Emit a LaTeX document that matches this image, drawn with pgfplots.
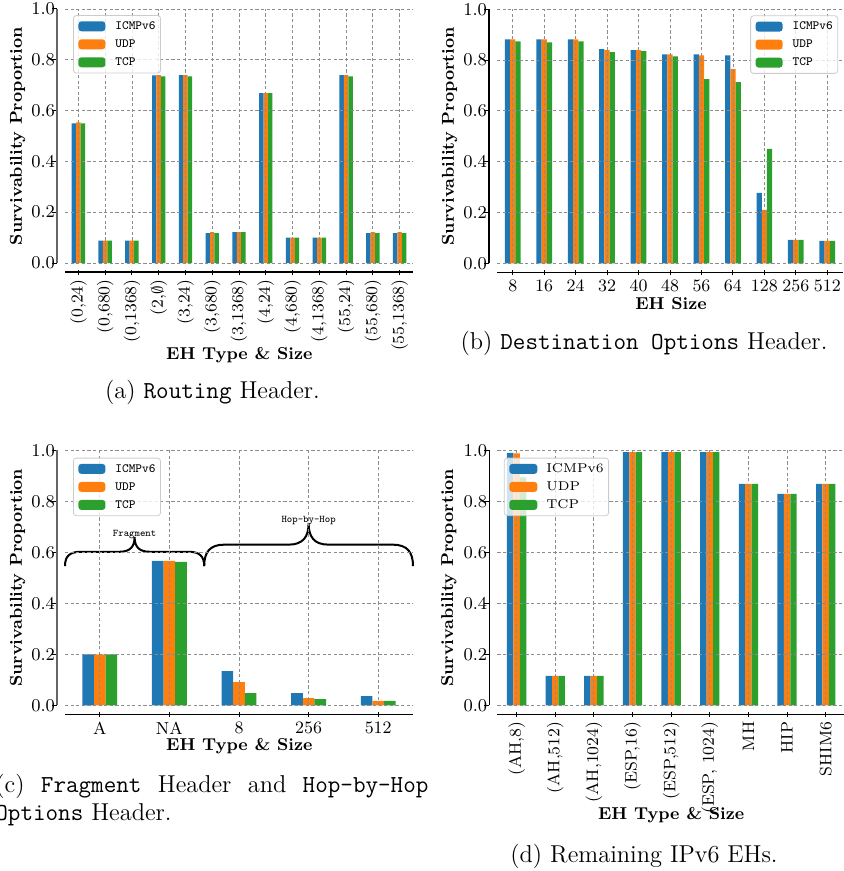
\documentclass[border=0pt]{standalone}
\usepackage{pgfplots}
\pgfplotsset{compat=1.18}
\definecolor{c1}{HTML}{1F77B4}
\definecolor{c2}{HTML}{FF7F0E}
\definecolor{c3}{HTML}{2CA02C}
\pgfplotsset{
  eh/.style={
    scale only axis,
    ymin=0, ymax=1,
    ytick={0,0.2,0.4,0.6,0.8,1},
    yticklabel style={/pgf/number format/.cd,fixed,fixed zerofill,precision=1},
    enlargelimits=false,
    ybar=0pt, bar width=0.1667,
    grid=major,
    major grid style={draw=black!45, dash pattern=on 1.6pt off 1.2pt, line width=0.4pt},
    axis on top,
    axis lines*=left,
    axis line style={-, line width=0.7pt},
    x axis line style={yshift=-4.5pt},
    y axis line style={xshift=-4pt},
    tick align=outside,
    major tick length=2.5pt,
    xtick style={yshift=-3.25pt, draw=black, line width=0.5pt},
    ytick style={xshift=-4pt, draw=black, line width=0.5pt},
    xticklabel shift=2.2pt,
    yticklabel shift=-1pt,
    tick label style={font=\fontsize{8.7}{10}\selectfont},
    label style={font=\bfseries\fontsize{8.6}{10}\selectfont},
    ylabel={Survivability Proportion},
    legend image code/.code={\fill[#1,draw=none,fill opacity=1] (0pt,-2.5pt) rectangle (13.5pt,2.5pt);},
    legend cell align=left,
    legend style={draw=black!20, fill=white, fill opacity=0.8, draw opacity=1, text opacity=1,
      rounded corners=1.5pt, inner xsep=2.5pt, inner ysep=2.5pt, row sep=3.2pt,
      font=\ttfamily\fontsize{6.3}{7}\selectfont,
      nodes={inner sep=0pt, text height=4.5pt, text depth=1.3pt},
      /tikz/every odd column/.append style={column sep=5pt}},
  },
  b1/.style={fill=c1, draw=none},
  b2/.style={fill=c2, draw=none},
  b3/.style={fill=c3, draw=none},
}
\begin{document}
\begin{tikzpicture}
\useasboundingbox (0,0) rectangle (422pt,-435.5pt);
% ---------------- (a)
\begin{axis}[eh, at={(32.5pt,-131.5pt)}, anchor=south west, width=174pt, height=127pt,
  xmin=-0.5, xmax=12.5, xtick={0,...,12},
  xticklabels={(0,24),(0,680),(0,1368),(2,$\emptyset$),(3,24),(3,680),(3,1368),(4,24),(4,680),(4,1368),(55,24),(55,680),(55,1368)},
  xticklabel style={rotate=90, anchor=east, font=\fontsize{8.3}{10}\selectfont},
  xlabel={EH Type \& Size},
  xlabel style={at={(axis description cs:0.501,-0.378)}, anchor=base},
  ylabel style={at={(axis description cs:-0.124,0.5)}, rotate=0, anchor=base},
  y axis line style={draw=black!60, line width=0.9pt},
  legend style={at={(axis description cs:0.023,0.976)}, anchor=north west}]
\addplot[b1] coordinates {(0,0.550)(1,0.088)(2,0.088)(3,0.739)(4,0.740)(5,0.118)(6,0.122)(7,0.669)(8,0.100)(9,0.100)(10,0.740)(11,0.118)(12,0.118)};
\addplot[b2] coordinates {(0,0.554)(1,0.088)(2,0.088)(3,0.740)(4,0.740)(5,0.122)(6,0.122)(7,0.669)(8,0.100)(9,0.100)(10,0.740)(11,0.122)(12,0.122)};
\addplot[b3] coordinates {(0,0.550)(1,0.088)(2,0.088)(3,0.735)(4,0.735)(5,0.118)(6,0.122)(7,0.669)(8,0.100)(9,0.100)(10,0.735)(11,0.118)(12,0.118)};
\legend{ICMPv6,UDP,TCP}
\end{axis}
% ---------------- (b)
\begin{axis}[eh, at={(248.5pt,-131.65pt)}, anchor=south west, width=173pt, height=127pt,
  xmin=-0.5, xmax=10.5, xtick={0,...,10},
  xticklabels={8,16,24,32,40,48,56,64,128,256,512},
  xlabel={EH Size},
  xlabel style={at={(axis description cs:0.503,-0.18)}, anchor=base},
  ylabel style={at={(axis description cs:-0.125,0.5)}, rotate=0, anchor=base},
  legend style={at={(axis description cs:0.986,0.976)}, anchor=north east}]
\addplot[b1] coordinates {(0,0.882)(1,0.882)(2,0.882)(3,0.843)(4,0.839)(5,0.823)(6,0.823)(7,0.819)(8,0.277)(9,0.092)(10,0.088)};
\addplot[b2] coordinates {(0,0.882)(1,0.882)(2,0.882)(3,0.839)(4,0.839)(5,0.823)(6,0.819)(7,0.764)(8,0.210)(9,0.092)(10,0.088)};
\addplot[b3] coordinates {(0,0.874)(1,0.870)(2,0.874)(3,0.831)(4,0.835)(5,0.815)(6,0.725)(7,0.713)(8,0.450)(9,0.092)(10,0.088)};
\legend{ICMPv6,UDP,TCP}
\end{axis}
% ---------------- (c)
\begin{axis}[eh, at={(32.5pt,-352.65pt)}, anchor=south west, width=174pt, height=127.5pt,
  xmin=-0.5, xmax=4.5, xtick={0,...,4}, clip=false,
  xticklabels={A,NA,8,256,512},
  xlabel={EH Type \& Size},
  xlabel style={at={(axis description cs:0.501,-0.179)}, anchor=base},
  ylabel style={at={(axis description cs:-0.124,0.5)}, rotate=0, anchor=base},
  y axis line style={draw=black!60, line width=0.9pt},
  legend style={at={(axis description cs:0.023,0.971)}, anchor=north west}]
\addplot[b1] coordinates {(0,0.200)(1,0.566)(2,0.1345)(3,0.048)(4,0.0365)};
\addplot[b2] coordinates {(0,0.200)(1,0.566)(2,0.091)(3,0.0286)(4,0.017)};
\addplot[b3] coordinates {(0,0.200)(1,0.562)(2,0.048)(3,0.0247)(4,0.017)};
\legend{ICMPv6,UDP,TCP}
\draw[line width=1pt, black] (axis cs:-0.5,0.546) .. controls (axis cs:-0.5,0.585) and (axis cs:-0.43,0.602) .. (axis cs:-0.28,0.602)
  -- (axis cs:0.28,0.602) .. controls (axis cs:0.43,0.602) and (axis cs:0.5,0.62) .. (axis cs:0.5,0.66)
  .. controls (axis cs:0.5,0.62) and (axis cs:0.57,0.602) .. (axis cs:0.72,0.602)
  -- (axis cs:1.28,0.602) .. controls (axis cs:1.43,0.602) and (axis cs:1.5,0.585) .. (axis cs:1.5,0.546);
\draw[line width=1pt, black] (axis cs:1.5,0.546) .. controls (axis cs:1.5,0.60) and (axis cs:1.58,0.63) .. (axis cs:1.79,0.63)
  -- (axis cs:2.71,0.63) .. controls (axis cs:2.92,0.63) and (axis cs:3.0,0.66) .. (axis cs:3.0,0.715)
  .. controls (axis cs:3.0,0.66) and (axis cs:3.08,0.63) .. (axis cs:3.29,0.63)
  -- (axis cs:4.21,0.63) .. controls (axis cs:4.42,0.63) and (axis cs:4.5,0.60) .. (axis cs:4.5,0.546);
\node[font=\ttfamily\fontsize{5.1}{6}\selectfont, inner sep=0pt] at (axis cs:0.5,0.668) {Fragment};
\node[font=\ttfamily\fontsize{5.1}{6}\selectfont, inner sep=0pt] at (axis cs:3.0,0.724) {Hop-by-Hop};
\end{axis}
% ---------------- (d)
\begin{axis}[eh, at={(248.65pt,-352.65pt)}, anchor=south west, width=173.85pt, height=127.5pt,
  xmin=-0.5, xmax=8.5, xtick={0,...,8},
  xticklabels={(AH,8),(AH,512),(AH,1024),(ESP,16),(ESP,512),(ESP{,} 1024),MH,HIP,SHIM6},
  xticklabel style={rotate=90, anchor=east, font=\fontsize{8.3}{10}\selectfont},
  xlabel={EH Type \& Size},
  xlabel style={at={(axis description cs:0.5,-0.446)}, anchor=base},
  ylabel style={at={(axis description cs:-0.127,0.5)}, rotate=0, anchor=base},
  legend style={at={(axis description cs:0.019,0.971)}, anchor=north west,
    font=\rmfamily\fontsize{6.4}{7.5}\selectfont, /tikz/every odd column/.append style={column sep=4.5pt}},
  legend image code/.code={\fill[#1,draw=none,fill opacity=1] (0pt,-2.5pt) rectangle (14pt,2.5pt);}]
\addplot[b1] coordinates {(0,0.990)(1,0.115)(2,0.115)(3,0.993)(4,0.993)(5,0.993)(6,0.868)(7,0.829)(8,0.868)};
\addplot[b2] coordinates {(0,0.988)(1,0.115)(2,0.115)(3,0.993)(4,0.993)(5,0.993)(6,0.868)(7,0.829)(8,0.868)};
\addplot[b3] coordinates {(0,0.894)(1,0.115)(2,0.115)(3,0.993)(4,0.993)(5,0.993)(6,0.868)(7,0.829)(8,0.868)};
\legend{ICMPv6,UDP,TCP}
\end{axis}
% ---------------- captions
\node[anchor=base, inner sep=0pt, font=\fontsize{12.2}{14}\selectfont] at (106.25pt,-199pt) {(a) \texttt{Routing} Header.};
\node[anchor=base, inner sep=0pt, font=\fontsize{12.2}{14}\selectfont] at (322pt,-174.5pt) {(b) \texttt{Destination Options} Header.};
\node[anchor=base west, inner sep=0pt, font=\fontsize{12.2}{14}\selectfont] at (-2.5pt,-396pt) {\makebox[216.5pt][s]{(c) \texttt{Fragment} Header and \texttt{Hop-by-Hop}}};
\node[anchor=base west, inner sep=0pt, font=\fontsize{12.2}{14}\selectfont] at (-2.5pt,-410pt) {\texttt{Options} Header.};
\node[anchor=base, inner sep=0pt, font=\fontsize{12.2}{14}\selectfont] at (322pt,-431pt) {(d) Remaining IPv6 EHs.};
\end{tikzpicture}
\end{document}
